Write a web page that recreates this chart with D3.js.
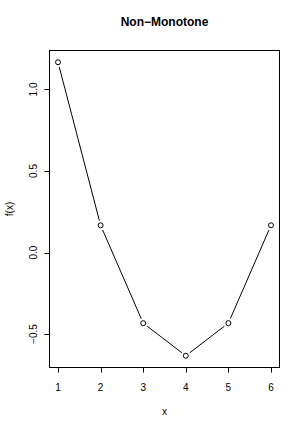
<!DOCTYPE html>
<html>
<head>
<meta charset="utf-8">
<script src="https://cdn.jsdelivr.net/npm/d3@7"></script>
<style>
    body { margin: 0; background: #fff; }
    text { font-family: "Liberation Sans", Arial, sans-serif; fill: #000; }
</style>
</head>
<body>
<svg id="chart" width="305" height="431"></svg>
<script>
    'use strict';

    var xValues = [1, 2, 3, 4, 5, 6];
    var yValues = [1.167, 0.167, -0.433, -0.633, -0.433, 0.167];
    var xTicks = [1, 2, 3, 4, 5, 6];
    var yTicks = [-0.5, 0.0, 0.5, 1.0];
    var TITLE = 'Non\u2212Monotone';

    var PLOT = { left: 49.5, top: 50.5, right: 279.5, bottom: 367.5 };
    var TICK = 5;
    var GAP = 5;

    var svg = d3.select('#chart');

    function padded(vals) {
        var ext = d3.extent(vals);
        var pad = (ext[1] - ext[0]) * 0.04;
        return [ext[0] - pad, ext[1] + pad];
    }

    var x = d3.scaleLinear().domain(padded(xValues)).range([PLOT.left, PLOT.right]);
    var y = d3.scaleLinear().domain(padded(yValues)).range([PLOT.bottom, PLOT.top]);

    svg.append('rect')
        .attr('x', PLOT.left)
        .attr('y', PLOT.top)
        .attr('width', PLOT.right - PLOT.left)
        .attr('height', PLOT.bottom - PLOT.top)
        .attr('fill', 'none')
        .attr('stroke', '#000')
        .attr('stroke-width', 1);

    // x axis
    var xAxis = svg.append('g');
    xAxis.append('line')
        .attr('x1', x(xTicks[0])).attr('x2', x(xTicks[xTicks.length - 1]))
        .attr('y1', PLOT.bottom).attr('y2', PLOT.bottom)
        .attr('stroke', '#000');
    xAxis.selectAll('line.tick').data(xTicks).enter().append('line')
        .attr('class', 'tick')
        .attr('x1', function (d) { return Math.round(x(d)) + 0.5; })
        .attr('x2', function (d) { return Math.round(x(d)) + 0.5; })
        .attr('y1', PLOT.bottom).attr('y2', PLOT.bottom + TICK)
        .attr('stroke', '#000');
    xAxis.selectAll('text').data(xTicks).enter().append('text')
        .attr('x', function (d) { return x(d); })
        .attr('y', 391)
        .attr('text-anchor', 'middle')
        .attr('font-size', 10)
        .text(function (d) { return d; });

    // y axis
    var yAxis = svg.append('g');
    yAxis.append('line')
        .attr('x1', PLOT.left).attr('x2', PLOT.left)
        .attr('y1', y(yTicks[0])).attr('y2', y(yTicks[yTicks.length - 1]))
        .attr('stroke', '#000');
    yAxis.selectAll('line.tick').data(yTicks).enter().append('line')
        .attr('class', 'tick')
        .attr('x1', PLOT.left - TICK).attr('x2', PLOT.left)
        .attr('y1', function (d) { return Math.round(y(d)) + 0.5; })
        .attr('y2', function (d) { return Math.round(y(d)) + 0.5; })
        .attr('stroke', '#000');
    yAxis.selectAll('text').data(yTicks).enter().append('text')
        .attr('transform', function (d) { return 'translate(37,' + y(d) + ') rotate(-90)'; })
        .attr('text-anchor', 'middle')
        .attr('font-size', 10)
        .text(function (d) { return d3.format('.1f')(d).replace('-', '\u2212'); });

    // labels
    svg.append('text')
        .attr('x', (PLOT.left + PLOT.right) / 2)
        .attr('y', 26)
        .attr('text-anchor', 'middle')
        .attr('font-size', 12)
        .attr('font-weight', 'bold')
        .text(TITLE);
    svg.append('text')
        .attr('x', (PLOT.left + PLOT.right) / 2)
        .attr('y', 415)
        .attr('text-anchor', 'middle')
        .attr('font-size', 10)
        .text('x');
    svg.append('text')
        .attr('transform', 'translate(13,' + (PLOT.top + PLOT.bottom) / 2 + ') rotate(-90)')
        .attr('text-anchor', 'middle')
        .attr('font-size', 10)
        .text('f(x)');

    // segments with gaps around the points (type = "b")
    var pts = xValues.map(function (d, i) { return [x(d), y(yValues[i])]; });
    var segs = d3.pairs(pts).map(function (p) {
        var dx = p[1][0] - p[0][0];
        var dy = p[1][1] - p[0][1];
        var len = Math.sqrt(dx * dx + dy * dy);
        var ux = dx / len;
        var uy = dy / len;
        return {
            x1: p[0][0] + ux * GAP, y1: p[0][1] + uy * GAP,
            x2: p[1][0] - ux * GAP, y2: p[1][1] - uy * GAP
        };
    });
    svg.append('g').selectAll('line').data(segs).enter().append('line')
        .attr('x1', function (d) { return d.x1; })
        .attr('y1', function (d) { return d.y1; })
        .attr('x2', function (d) { return d.x2; })
        .attr('y2', function (d) { return d.y2; })
        .attr('stroke', '#000')
        .attr('stroke-width', 1);

    svg.append('g').selectAll('circle').data(pts).enter().append('circle')
        .attr('cx', function (d) { return d[0]; })
        .attr('cy', function (d) { return d[1]; })
        .attr('r', 2.5)
        .attr('fill', 'none')
        .attr('stroke', '#000')
        .attr('stroke-width', 1);
</script>
</body>
</html>
